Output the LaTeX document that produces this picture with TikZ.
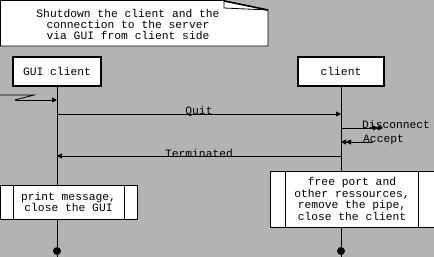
\documentclass[tikz,border=0pt]{standalone}
\usepackage{fontspec}
\setmonofont{Liberation Mono}
\usetikzlibrary{arrows.meta}
\definecolor{bg}{RGB}{179,179,179}
\tikzset{
  txt/.style={font=\ttfamily\fontsize{11.3}{11.4}\selectfont},
  lifebox/.style={draw, line width=2pt, fill=white, inner sep=0pt, txt},
  actbox/.style={draw, line width=0.8pt, fill=white, inner sep=0pt, align=center, txt},
  lifeline/.style={line width=0.8pt},
  msg/.style={line width=0.8pt, -{Triangle[length=5pt,width=5pt]}},
  dmsg/.style={line width=0.8pt, -{Triangle[length=5pt,width=5pt]Triangle[length=5pt,width=5pt]}},
  lbl/.style={txt, inner sep=0pt, anchor=base},
  dot/.style={circle, fill=black, inner sep=0pt, minimum size=8pt},
}
\begin{document}
\begin{tikzpicture}[x=1pt,y=-1pt]
\fill[bg] (0,0) rectangle (434,257);
\useasboundingbox (0,0) rectangle (434,257);
% note
\draw[line width=0.8pt, fill=white] (0.5,0.5) -- (224,0.5) -- (268,10) -- (268,46) -- (0.5,46) -- cycle;
\draw[line width=0.8pt] (224,0.5) -- (224,8) -- (268,10);
\draw[line width=1.5pt] (224,1) -- (268,10);
\node[txt, align=center, inner sep=0pt] (note) at (128,24.5) {Shutdown the client and the\\connection to the server\\via GUI from client side};
% lifeline heads
\node[lifebox, minimum width=88pt, minimum height=29pt] (gui) at (57,71.5) {GUI client};
\node[lifebox, minimum width=86pt, minimum height=29pt] (cli) at (341,71.5) {client};
\coordinate (guiend) at (57,257);
\coordinate (cliend) at (341,257);
\draw[lifeline] (gui.south) -- (guiend);
\draw[lifeline] (cli.south) -- (cliend);
% found message
\coordinate (f0) at (0,95);
\coordinate (f1) at (34,95);
\coordinate (f2) at (15,100);
\coordinate (f3) at (57,100);
\draw[line width=0.8pt] (f0) -- (f1) -- (f2);
\draw[msg] (f2) -- (f3);
% Quit
\coordinate (q1) at (57,114);
\coordinate (q2) at (341,114);
\draw[msg] (q1) -- node[lbl] (quit) {Quit} (q2);
% Disconnect
\coordinate (d1) at (341,128);
\coordinate (d2) at (383,128);
\draw[dmsg] (d1) -- (d2);
\node[lbl, anchor=base west] (disc) at (362,128) {Disconnect};
% Accept
\coordinate (a1) at (373,142);
\coordinate (a2) at (341,142);
\draw[dmsg] (a1) -- (a2);
\node[lbl, anchor=base west] (acc) at (363,142) {Accept};
% Terminated
\coordinate (t1) at (341,156);
\coordinate (t2) at (57,156);
\draw[msg] (t1) -- node[lbl, yshift=-1pt] (term) {Terminated} (t2);
% activity boxes
\node[actbox, minimum width=137pt, minimum height=34pt] (guiact) at (68.5,202) {print message,\\close the GUI};
\draw[line width=0.8pt] ([xshift=14pt]guiact.north west) -- ([xshift=14pt]guiact.south west);
\draw[line width=0.8pt] ([xshift=-13pt]guiact.north east) -- ([xshift=-13pt]guiact.south east);
\node[actbox, minimum width=164pt, minimum height=56pt] (cliact) at (352,199) {free port and\\other ressources,\\remove the pipe,\\close the client};
\draw[line width=0.8pt] ([xshift=16pt]cliact.north west) -- ([xshift=16pt]cliact.south west);
\draw[line width=0.8pt] ([xshift=-16pt]cliact.north east) -- ([xshift=-16pt]cliact.south east);
% end dots
\node[dot] (guidot) at (57,251) {};
\node[dot] (clidot) at (341,251) {};
\end{tikzpicture}
\end{document}
